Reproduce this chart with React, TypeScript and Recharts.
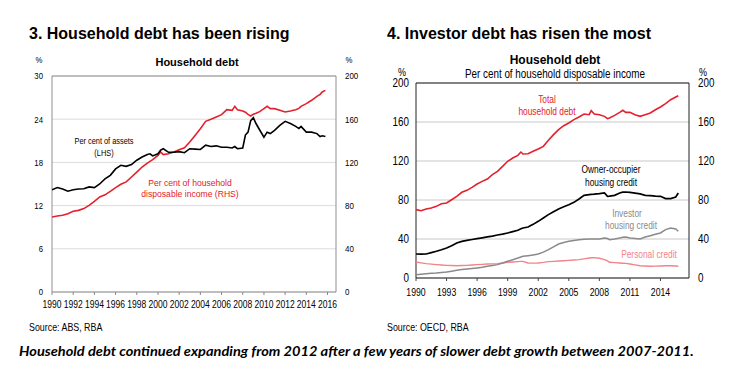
import type { ReactNode } from 'react'
import { CartesianGrid, Line, LineChart, ReferenceArea, XAxis, YAxis } from 'recharts'

// ---- chart 3: household debt, per cent of assets (LHS) / disposable income (RHS)
const leftYears = [
  1990, 1990.5, 1991, 1991.5, 1992, 1992.5, 1993, 1993.5, 1994, 1994.5, 1995, 1995.5, 1996, 1996.5,
  1997, 1997.5, 1998, 1998.5, 1999, 1999.25, 1999.5, 2000, 2000.25, 2000.5, 2001, 2001.5, 2002,
  2002.5, 2003, 2003.5, 2004, 2004.5, 2005, 2005.5, 2006, 2006.5, 2007, 2007.25, 2007.5, 2008,
  2008.25, 2008.5, 2008.75, 2009, 2009.25, 2009.6, 2010, 2010.3, 2010.6, 2011, 2011.5, 2012, 2012.5,
  2013, 2013.3, 2013.5, 2014, 2014.5, 2015, 2015.3, 2015.5, 2015.8,
]
const assetsPct = [
  14.2, 14.5, 14.3, 14.0, 14.2, 14.3, 14.35, 14.6, 14.5, 15.0, 15.7, 16.2, 17.1, 17.6,
  17.45, 17.7, 18.3, 18.75, 19.1, 19.2, 18.9, 19.2, 19.7, 19.9, 19.4, 19.4, 19.5,
  19.35, 19.9, 19.85, 19.8, 20.4, 20.2, 20.3, 20.1, 20.1, 20.0, 20.2, 19.9, 20.0,
  21.8, 22.2, 23.8, 24.2, 23.4, 22.5, 21.5, 22.2, 22.0, 22.45, 23.15, 23.7, 23.4,
  23.0, 22.7, 23.0, 22.2, 22.2, 22.0, 21.6, 21.7, 21.6,
]
const incomePct = [
  69.4, 70.4, 71, 72.5, 74.7, 75.6, 77.2, 80.2, 84, 88, 90, 93.2, 96.6, 99.7,
  101.9, 106.5, 111, 115.7, 119.4, 121, 122.5, 126.5, 129.6, 127.2, 128, 129.6, 131.8,
  133.6, 138.9, 145, 151.2, 158, 159.9, 162, 164.2, 168.8, 168.2, 171.9, 168.8, 167.6,
  166.5, 164.5, 163, 164.5, 165.5, 167, 169.8, 171.9, 169.8, 169.8, 168.2, 166.7, 167.6,
  168.8, 170, 171.9, 174.4, 177.5, 181.2, 183, 185.2, 186.7,
]
const leftXTicks = [1990, 1992, 1994, 1996, 1998, 2000, 2002, 2004, 2006, 2008, 2010, 2012, 2014, 2016]
const lhsTicks = [0, 6, 12, 18, 24, 30]
const rhsTicks = [0, 40, 80, 120, 160, 200]

// ---- chart 4: household debt by type, per cent of disposable income
const rightYears = [
  1990, 1990.5, 1991, 1991.5, 1992, 1992.5, 1993, 1993.5, 1994, 1994.5, 1995, 1995.5, 1996, 1996.5,
  1997, 1997.5, 1998, 1998.5, 1999, 1999.5, 2000, 2000.3, 2000.5, 2001, 2001.5, 2002, 2002.5,
  2003, 2003.5, 2004, 2004.5, 2005, 2005.5, 2006, 2006.5, 2007, 2007.2, 2007.5, 2008, 2008.5,
  2008.8, 2009, 2009.5, 2010, 2010.3, 2010.6, 2011, 2011.5, 2012, 2012.5, 2013, 2013.5, 2014,
  2014.5, 2015, 2015.5, 2015.75,
]
const totalDebt = [
  70.1, 69, 70.8, 71.8, 73.5, 76.2, 76.9, 80.3, 83.8, 87.9, 89.9, 93, 96.4, 99.1,
  101.5, 106, 109.4, 114.5, 119.7, 123.1, 125.8, 129.2, 127.2, 127.5, 129.9, 132.3, 135,
  141.2, 147, 152.1, 156.2, 159, 162.4, 165.1, 168.2, 167.5, 171.6, 168.2, 167.5, 165.8,
  163.4, 164.1, 166.8, 169.9, 172, 169.9, 169.9, 167.5, 165.8, 167.5, 169.2, 172.6, 175.4,
  178.8, 182.9, 185.6, 187,
]
const ownerOccupier = [
  24.6, 24.5, 24.6, 26, 27.4, 29, 30.8, 33, 35.9, 37.5, 38.6, 39.5, 40.3, 41.2,
  42.1, 43, 44.1, 45, 46.2, 47.5, 48.9, 50.5, 51.3, 52.3, 55, 58.1, 61.5,
  65, 68, 70.8, 73, 75.2, 77.6, 81, 84.8, 85.5, 85.8, 86, 86.5, 87.2,
  83.8, 84, 84.8, 87.2, 88, 88.2, 87.9, 87, 86.2, 84.8, 84.4, 84, 83.8,
  81.4, 81.4, 83.1, 87.2,
]
const investorCredit = [
  3.4, 3.9, 4.4, 4.8, 5.1, 5.6, 6.2, 7, 7.9, 8.6, 9.2, 9.7, 10.3, 11,
  12, 12.8, 13.7, 15.3, 17.1, 18.8, 20.5, 21.6, 22.2, 22.9, 23.7, 24.6, 26.5,
  29.1, 32, 34.9, 36.5, 37.6, 38.5, 39.3, 39.8, 40, 40, 40, 40, 41,
  40.5, 39.3, 40, 41, 41.7, 42, 41, 40.5, 40, 42, 43.4, 44.8, 46.2,
  49.6, 51.3, 50.3, 47.9,
]
const personalCredit = [
  16.4, 15.5, 14.7, 14.2, 13.7, 13.3, 13, 12.8, 12.6, 12.8, 13, 13.3, 13.7, 14,
  14.4, 14.5, 14.7, 15.4, 16.1, 16.4, 16.8, 17.1, 17.1, 15.4, 15.3, 15.4, 16,
  16.8, 17.1, 17.4, 17.7, 18.1, 18.4, 18.8, 19.6, 20.5, 20.7, 20.9, 20.2, 18.8,
  17.5, 16.1, 15.8, 15.4, 15.2, 15, 14.4, 13.5, 12.6, 12.3, 12, 12.2, 12.3,
  12.5, 12.6, 12.3, 12,
]
const rightXTicks = [1990, 1993, 1996, 1999, 2002, 2005, 2008, 2011, 2014]
const rightYTicks = [0, 40, 80, 120, 160, 200]

const leftData = leftYears.map((year, i) => ({ year, assets: assetsPct[i], income: incomePct[i] }))
const rightData = rightYears.map((year, i) => ({
  year,
  total: totalDebt[i],
  owner: ownerOccupier[i],
  investor: investorCredit[i],
  personal: personalCredit[i],
}))

const X_DOMAIN: [number, number] = [1990, 2016.8]
const ARIAL = "'Liberation Sans', Arial, sans-serif"
const NARROW = 0.82
const RED = '#e4202c'
const PINK = '#f2838a'
const GREY = '#8a8a8a'

type TxtProps = {
  x: number
  y: number
  size: number
  children: ReactNode
  color?: string
  bold?: boolean
  italic?: boolean
  squeeze?: number
  align?: 'start' | 'center' | 'end'
  family?: string
}

// html text overlay, centred vertically on y
function Txt({ x, y, size, children, color = '#000', bold = false, italic = false, squeeze = 1, align = 'center', family = ARIAL }: TxtProps) {
  const tx = align === 'center' ? '-50%' : align === 'end' ? '-100%' : '0'
  const origin = align === 'center' ? 'center' : align === 'end' ? 'right' : 'left'
  return (
    <div
      style={{
        position: 'absolute',
        left: x,
        top: y,
        transform: `translate(${tx}, -50%) scaleX(${squeeze})`,
        transformOrigin: origin,
        fontFamily: family,
        fontSize: size,
        fontWeight: bold ? 700 : 400,
        fontStyle: italic ? 'italic' : 'normal',
        color,
        lineHeight: 1,
        whiteSpace: 'nowrap',
      }}
    >
      {children}
    </div>
  )
}

// x tick: short mark hanging below the axis, narrow label under it
function makeXTick(margin: number, size: number, mark: string) {
  return (props: any) => {
    const { x, y, payload } = props
    const axisY = y - margin
    return (
      <g>
        <line x1={x} x2={x} y1={axisY} y2={axisY + 3} stroke={mark} strokeWidth={1} />
        <g transform={`translate(${x},${y})`}>
          <text transform={`scale(${NARROW},1)`} textAnchor="middle" dy="0.71em" fontSize={size} fontFamily={ARIAL} fill="#000">
            {payload.value}
          </text>
        </g>
      </g>
    )
  }
}

function makeYTick(size: number, anchor: 'start' | 'end') {
  return (props: any) => {
    const { x, y, payload } = props
    return (
      <g transform={`translate(${x},${y})`}>
        <text transform={`scale(${NARROW},1)`} textAnchor={anchor} dy="0.355em" fontSize={size} fontFamily={ARIAL} fill="#000">
          {payload.value}
        </text>
      </g>
    )
  }
}

function LeftChart() {
  return (
    <LineChart width={370} height={320} data={leftData} margin={{ top: 76, right: 14, bottom: 8, left: 32 }}>
      <CartesianGrid yAxisId="l" vertical={false} stroke="#dcdcdc" />
      <XAxis
        dataKey="year"
        type="number"
        domain={X_DOMAIN}
        ticks={leftXTicks}
        allowDataOverflow
        height={20}
        axisLine={false}
        tickLine={false}
        tickSize={0}
        tickMargin={9}
        interval={0}
        tick={makeXTick(9, 10.4, '#888')}
      />
      <YAxis
        yAxisId="l"
        domain={[0, 30]}
        ticks={lhsTicks}
        width={20}
        axisLine={false}
        tickLine={false}
        tickSize={0}
        tickMargin={9}
        tick={makeYTick(9.5, 'end')}
      />
      <YAxis
        yAxisId="r"
        orientation="right"
        domain={[0, 200]}
        ticks={rhsTicks}
        width={20}
        axisLine={false}
        tickLine={false}
        tickSize={0}
        tickMargin={9}
        tick={makeYTick(9.7, 'start')}
      />
      <ReferenceArea yAxisId="l" x1={X_DOMAIN[0]} x2={X_DOMAIN[1]} y1={0} y2={30} fill="none" stroke="#8f8f8f" strokeWidth={1} />
      <Line yAxisId="r" type="linear" dataKey="income" stroke={RED} strokeWidth={1.6} dot={false} isAnimationActive={false} />
      <Line yAxisId="l" type="linear" dataKey="assets" stroke="#000" strokeWidth={1.6} dot={false} isAnimationActive={false} />
    </LineChart>
  )
}

function RightChart() {
  return (
    <LineChart width={366} height={320} data={rightData} margin={{ top: 83, right: 27, bottom: 22, left: 26 }}>
      <CartesianGrid yAxisId="l" vertical={false} stroke="#c8c8c8" />
      <XAxis
        dataKey="year"
        type="number"
        domain={X_DOMAIN}
        ticks={rightXTicks}
        allowDataOverflow
        height={20}
        axisLine={false}
        tickLine={false}
        tickSize={0}
        tickMargin={10}
        interval={0}
        tick={makeXTick(10, 10.6, '#444')}
      />
      <YAxis
        yAxisId="l"
        domain={[0, 200]}
        ticks={rightYTicks}
        width={20}
        axisLine={false}
        tickLine={false}
        tickSize={0}
        tickMargin={7}
        tick={makeYTick(12, 'end')}
      />
      <YAxis
        yAxisId="r"
        orientation="right"
        domain={[0, 200]}
        ticks={rightYTicks}
        width={20}
        axisLine={false}
        tickLine={false}
        tickSize={0}
        tickMargin={9}
        tick={makeYTick(12, 'start')}
      />
      <ReferenceArea yAxisId="l" x1={X_DOMAIN[0]} x2={X_DOMAIN[1]} y1={0} y2={200} fill="none" stroke="#222" strokeWidth={1} />
      <Line yAxisId="l" type="linear" dataKey="personal" stroke={PINK} strokeWidth={1.4} dot={false} isAnimationActive={false} />
      <Line yAxisId="l" type="linear" dataKey="investor" stroke={GREY} strokeWidth={1.5} dot={false} isAnimationActive={false} />
      <Line yAxisId="l" type="linear" dataKey="owner" stroke="#000" strokeWidth={1.7} dot={false} isAnimationActive={false} />
      {/* both axes share 0-200, total sits on the right one so it gets drawn */}
      <Line yAxisId="r" type="linear" dataKey="total" stroke={RED} strokeWidth={1.6} dot={false} isAnimationActive={false} />
    </LineChart>
  )
}

export default function App() {
  return (
    <div style={{ position: 'absolute', left: 0, top: 0, width: 736, height: 385, background: '#fff', overflow: 'hidden' }}>
      <div style={{ position: 'absolute', left: 0, top: 0 }}>
        <LeftChart />
      </div>
      <div style={{ position: 'absolute', left: 370, top: 0 }}>
        <RightChart />
      </div>

      {/* chart 3 texts */}
      <Txt x={29} y={34} size={16} bold align="start">3. Household debt has been rising</Txt>
      <Txt x={197} y={62} size={11} bold>Household debt</Txt>
      <Txt x={39} y={60} size={9.5} squeeze={NARROW}>%</Txt>
      <Txt x={349} y={60} size={9.5} squeeze={NARROW}>%</Txt>
      <Txt x={104} y={140.5} size={9} squeeze={NARROW}>Per cent of assets</Txt>
      <Txt x={104} y={152.5} size={9} squeeze={NARROW}>(LHS)</Txt>
      <Txt x={190} y={183} size={8.6} color={RED}>Per cent of household</Txt>
      <Txt x={190} y={194} size={8.6} color={RED}>disposable income (RHS)</Txt>
      <Txt x={29} y={327} size={10.8} squeeze={NARROW} align="start">Source: ABS, RBA</Txt>

      {/* chart 4 texts */}
      <Txt x={387} y={34} size={16} bold align="start">4. Investor debt has risen the most</Txt>
      <Txt x={555} y={60} size={12} bold>Household debt</Txt>
      <Txt x={555} y={74} size={12} squeeze={NARROW}>Per cent of household disposable income</Txt>
      <Txt x={402} y={71.5} size={11} squeeze={NARROW}>%</Txt>
      <Txt x={703} y={71.5} size={11} squeeze={NARROW}>%</Txt>
      <Txt x={547} y={99.5} size={10.2} squeeze={NARROW} color={RED}>Total</Txt>
      <Txt x={547} y={111.5} size={10.2} squeeze={NARROW} color={RED}>household debt</Txt>
      <Txt x={611} y={170} size={10.2} squeeze={NARROW}>Owner-occupier</Txt>
      <Txt x={611} y={182.5} size={10.2} squeeze={NARROW}>housing credit</Txt>
      <Txt x={627} y={213.5} size={10.2} squeeze={NARROW} color={GREY}>Investor</Txt>
      <Txt x={631} y={226} size={10.2} squeeze={NARROW} color={GREY}>housing credit</Txt>
      <Txt x={649} y={254.5} size={10.2} squeeze={NARROW} color={PINK}>Personal credit</Txt>
      <Txt x={387} y={327} size={10.8} squeeze={NARROW} align="start">Source: OECD, RBA</Txt>

      <Txt x={19} y={352} size={13.4} squeeze={1.09} bold italic align="start" family="Lato, 'DejaVu Sans', sans-serif">
        Household debt continued expanding from 2012 after a few years of slower debt growth between 2007-2011.
      </Txt>
    </div>
  )
}
